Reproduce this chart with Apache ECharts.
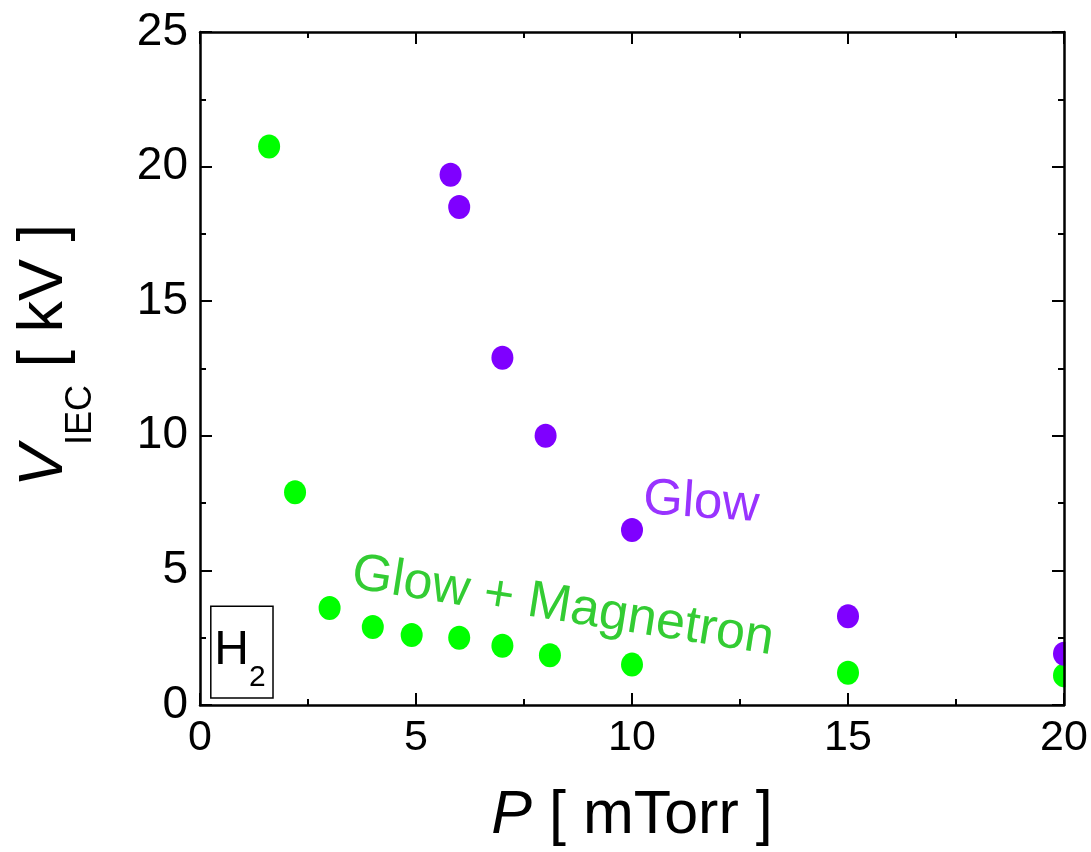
<!DOCTYPE html>
<html>
<head>
<meta charset="utf-8">
<script src="https://cdn.jsdelivr.net/npm/echarts@6/dist/echarts.min.js"></script>
<style>
  html, body { margin: 0; padding: 0; background: #fff; }
  #chart { width: 1091px; height: 852px; }
</style>
</head>
<body>
<div id="chart"></div>
<script>
// glow + magnetron discharge
const pressureGM = [1.6, 2.2, 3.0, 4.0, 4.9, 6.0, 7.0, 8.1, 10.0, 15.0, 20.0]
const voltageGM = [20.75, 7.9, 3.6, 2.9, 2.6, 2.5, 2.2, 1.85, 1.5, 1.2, 1.1]
// glow only
const pressureGlow = [5.8, 6.0, 7.0, 8.0, 10.0, 15.0, 20.0]
const voltageGlow = [19.7, 18.5, 12.9, 10.0, 6.5, 3.3, 1.9]

const xTicks = [0, 5, 10, 15, 20]
const yTicks = [0, 5, 10, 15, 20, 25]

const FONT = 'Liberation Sans, Arial, sans-serif'
const black = '#000'

const chart = echarts.init(document.getElementById('chart'))

const baseAxis = {
  interval: 5,
  splitNumber: 2,
  axisLine: { show: true, onZero: false, lineStyle: { color: black, width: 2.5 } },
  axisTick: { show: true, inside: true, length: 12, lineStyle: { color: black, width: 2 } },
  minorTick: { show: true, splitNumber: 2, length: 6, lineStyle: { color: black, width: 2 } },
  splitLine: { show: false },
  z: 10
}

const option = {
  animation: false,
  backgroundColor: '#fff',
  grid: { left: 200, top: 32, width: 864, height: 674, containLabel: false },
  xAxis: [
    Object.assign({}, baseAxis, {
      type: 'value', min: xTicks[0], max: xTicks[xTicks.length - 1], position: 'bottom',
      axisLabel: { show: true, margin: 12, fontSize: 43, color: black, fontFamily: FONT },
      name: '{i|P}{n| [ mTorr ]}',
      nameLocation: 'middle',
      nameGap: 81,
      nameTextStyle: {
        rich: {
          i: { fontSize: 61, lineHeight: 61, fontStyle: 'italic', fontFamily: FONT, color: black, verticalAlign: 'top' },
          n: { fontSize: 61, lineHeight: 61, fontFamily: FONT, color: black, verticalAlign: 'top' }
        }
      }
    }),
    Object.assign({}, baseAxis, {
      type: 'value', min: xTicks[0], max: xTicks[xTicks.length - 1], position: 'top',
      axisLabel: { show: false }
    })
  ],
  yAxis: [
    Object.assign({}, baseAxis, {
      type: 'value', min: yTicks[0], max: yTicks[yTicks.length - 1], position: 'left',
      axisLabel: { show: true, margin: 12, fontSize: 46, color: black, fontFamily: FONT },
      name: '{i|V}{s|IEC}{n| [ kV ]}',
      nameLocation: 'middle',
      nameGap: 124,
      nameRotate: 90,
      nameTextStyle: {
        padding: [0, 0, 0, 26],
        rich: {
          i: { fontSize: 63, lineHeight: 63, fontStyle: 'italic', fontFamily: FONT, color: black, verticalAlign: 'top' },
          s: { fontSize: 36, lineHeight: 36, fontFamily: FONT, color: black, verticalAlign: 'top', padding: [50, 0, 0, 0] },
          n: { fontSize: 63, lineHeight: 63, fontFamily: FONT, color: black, verticalAlign: 'top' }
        }
      }
    }),
    Object.assign({}, baseAxis, {
      type: 'value', min: yTicks[0], max: yTicks[yTicks.length - 1], position: 'right',
      axisLabel: { show: false }
    })
  ],
  series: [
    {
      name: 'Glow + Magnetron',
      type: 'scatter',
      symbol: 'circle',
      symbolSize: [22, 24],
      itemStyle: { color: '#00ff00', opacity: 1 },
      data: pressureGM.map((p, i) => [p, voltageGM[i]]),
      z: 2
    },
    {
      name: 'Glow',
      type: 'scatter',
      symbol: 'circle',
      symbolSize: [22, 24],
      itemStyle: { color: '#7f00ff', opacity: 1 },
      data: pressureGlow.map((p, i) => [p, voltageGlow[i]]),
      z: 3
    }
  ]
}

chart.setOption(option)

// annotations, placed in data coordinates
const toPx = (pt) => chart.convertToPixel({ gridIndex: 0 }, pt)
const glowPos = toPx([11.6, 7.5])
const gmPos = toPx([8.4, 3.65])
const boxA = toPx([0.25, 3.67])
const boxB = toPx([1.69, 0.26])
const plotTR = toPx([20, 25])
const plotBR = toPx([20, 0])

chart.setOption({
  graphic: [
    {
      // hides the halves of markers that fall past the right frame
      type: 'rect', z: 5,
      shape: { x: plotTR[0] + 1.5, y: 0, width: 1091 - plotTR[0], height: plotBR[1] - 1 },
      style: { fill: '#fff' }
    },
    {
      type: 'text', z: 6,
      x: glowPos[0], y: glowPos[1], rotation: -4 * Math.PI / 180,
      style: { text: 'Glow', fontSize: 51, fontFamily: FONT, fill: '#9933ff', align: 'center', verticalAlign: 'middle' }
    },
    {
      type: 'text', z: 6,
      x: gmPos[0], y: gmPos[1], rotation: -9 * Math.PI / 180,
      style: { text: 'Glow + Magnetron', fontSize: 52, fontFamily: FONT, fill: '#33cc33', align: 'center', verticalAlign: 'middle' }
    },
    {
      type: 'rect', z: 6,
      shape: { x: boxA[0], y: boxA[1], width: boxB[0] - boxA[0], height: boxB[1] - boxA[1] },
      style: { fill: '#fff', stroke: black, lineWidth: 1.5 }
    },
    {
      type: 'text', z: 7,
      x: (boxA[0] + boxB[0]) / 2 - 2, y: (boxA[1] + boxB[1]) / 2 - 1,
      style: {
        text: '{h|H}{s|2}', align: 'center', verticalAlign: 'middle',
        rich: {
          h: { fontSize: 48, lineHeight: 48, fontFamily: FONT, fill: black, verticalAlign: 'top' },
          s: { fontSize: 30, lineHeight: 30, fontFamily: FONT, fill: black, verticalAlign: 'top', padding: [36, 0, 0, 0] }
        }
      }
    }
  ]
})
</script>
</body>
</html>
